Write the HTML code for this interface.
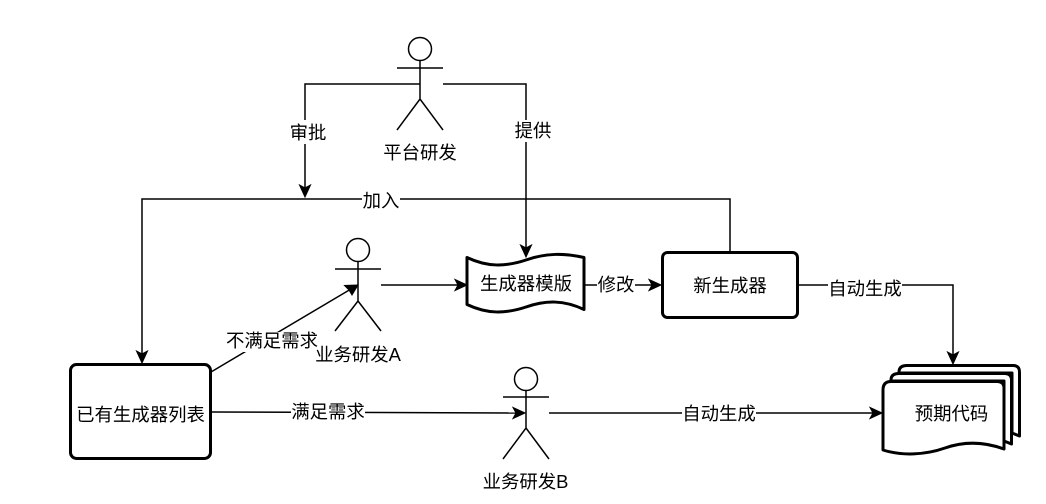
<!DOCTYPE html>
<html><head><meta charset="utf-8"><style>
html,body{margin:0;padding:0;background:#fff}
svg{display:block}
text{font-family:"Liberation Sans","WenQuanYi Zen Hei","Noto Sans CJK SC",sans-serif;font-size:18.4px;fill:#000;text-anchor:middle}
.l{fill:none;stroke:#000;stroke-width:1.5}
.s{fill:#fff;stroke:#000;stroke-width:3;stroke-linejoin:round}
.a{fill:#000;stroke:#000;stroke-width:1}
.b{fill:#fff}
</style></head><body>
<svg width="1046" height="504" viewBox="0 0 1046 504" xmlns="http://www.w3.org/2000/svg">
<!-- connectors -->
<path class="l" d="M420 84H305V190"/>
<path class="l" d="M443 84H526V250"/>
<path class="l" d="M730 252V199H142V356"/>
<path class="l" d="M381 285H461"/>
<path class="l" d="M584 285H655"/>
<path class="l" d="M798 285H953V357"/>
<path class="l" d="M211 372L351 289"/>
<path class="l" d="M212 412L518 413"/>
<path class="l" d="M549 413H878"/>
<!-- arrowheads -->
<path class="a" d="M305 197L299.500 185L305 188L310.500 185Z"/>
<path class="a" d="M526 257L520.500 245L526 248L531.500 245Z"/>
<path class="a" d="M142 363L136.500 351L142 354L147.500 351Z"/>
<path class="a" d="M953 364L947.500 352L953 355L958.500 352Z"/>
<path class="a" d="M467 285L455 279.500L458 285L455 290.500Z"/>
<path class="a" d="M661 285L649 279.500L652 285L649 290.500Z"/>
<path class="a" d="M525 413L513 407.500L516 413L513 418.500Z"/>
<path class="a" d="M882 413L870 407.500L873 413L870 418.500Z"/>
<path class="a" d="M358 285L344.500 285.500L349 290L352 295Z"/>
<!-- actors -->
<g class="l">
<circle cx="420" cy="49" r="11.500"/><path d="M420 60.500V99M397 68H443M397 130L420 99L443 130"/>
<circle cx="358" cy="250" r="11.500"/><path d="M358 261.500V301M335 269H381M335 331L358 301L381 331"/>
<circle cx="526" cy="379" r="11.500"/><path d="M526 390.500V428M503 397H549M503 459L526 428L549 459"/>
</g>
<!-- shapes -->
<rect class="s" x="70.500" y="364.500" width="140" height="94" rx="6"/>
<rect class="s" x="662.500" y="252.500" width="135" height="65" rx="5"/>
<path class="s" d="M467 257.500C487 267 505 267 526 260C546 253 564 253 584 257.500V309.500C564 300 546 300 526 307C505 314 487 314 467 304.500Z"/>
<path class="s" d="M907 365.500H1013Q1019.500 365.500 1019.500 372V436L1012 433V373H899V372Q899 365.500 907 365.500Z"/>
<path class="s" d="M899 373.500H1005Q1011.500 373.500 1011.500 380V444L1004 441V381H891V380Q891 373.500 899 373.500Z"/>
<path class="s" d="M891 381.500H997Q1004 381.500 1004 388V449C985 442 965 441 945 448C925 455 902 456 883 450V390Q883 381.500 891 381.500Z"/>
<!-- label backgrounds -->
<rect class="b" x="288" y="120" width="41" height="24"/>
<rect class="b" x="514" y="120" width="38" height="22"/>
<rect class="b" x="362" y="190" width="38" height="20"/>
<rect class="b" x="597" y="274" width="38" height="22"/>
<rect class="b" x="828" y="274" width="74" height="22"/>
<rect class="b" x="225" y="332" width="93" height="20"/>
<rect class="b" x="291" y="402" width="74" height="22"/>
<rect class="b" x="682" y="402" width="74" height="22"/>
<!-- text -->
<text x="308" y="139">审批</text>
<text x="533" y="137">提供</text>
<text x="381" y="207">加入</text>
<text x="420" y="159">平台研发</text>
<text x="358" y="361">业务研发A</text>
<text x="525.500" y="488">业务研发B</text>
<text x="526" y="290">生成器模版</text>
<text x="616" y="291">修改</text>
<text x="730" y="292">新生成器</text>
<text x="865" y="295">自动生成</text>
<text x="272" y="347">不满足需求</text>
<text x="140.500" y="421">已有生成器列表</text>
<text x="328" y="418">满足需求</text>
<text x="719" y="420">自动生成</text>
<text x="951.500" y="420">预期代码</text>
</svg>
</body></html>
